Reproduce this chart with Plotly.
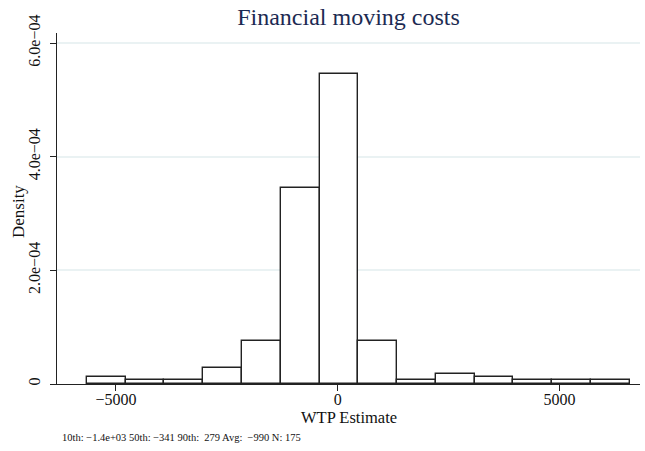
import plotly.graph_objects as go

# Histogram of WTP estimates (density scale), 14 equal-width bins
bin_edges = [-5660, -4785, -3910, -3035, -2160, -1285, -410, 465,
             1340, 2215, 3090, 3965, 4840, 5715, 6590]
density = [1.3e-5, 6.5e-6, 6.5e-6, 2.9e-5, 7.6e-5, 3.45e-4, 5.45e-4,
           7.6e-5, 6.5e-6, 1.8e-5, 1.3e-5, 6.5e-6, 6.5e-6, 6.5e-6]

x_tickvals = [-5000, 0, 5000]
x_ticktext = ["\u22125000", "0", "5000"]
y_tickvals = [0, 2e-4, 4e-4, 6e-4]
y_ticktext = ["0", "2.0e\u221204", "4.0e\u221204", "6.0e\u221204"]

footnote = ("10th: \u22121.4e+03 50th: \u2212341 90th:\u00a0\u00a0279 "
            "Avg:\u00a0\u00a0\u2212990 N: 175")

centers = [(a + b) / 2 for a, b in zip(bin_edges[:-1], bin_edges[1:])]
widths = [b - a for a, b in zip(bin_edges[:-1], bin_edges[1:])]

FONT = "Liberation Serif"
INK = "#111111"
PLOT_H = 451 - 33 - 67

fig = go.Figure(
    go.Bar(
        x=centers,
        y=density,
        width=widths,
        marker=dict(color="white", line=dict(color="#222222", width=1.4)),
        showlegend=False,
        hoverinfo="x+y",
    )
)

fig.update_layout(
    width=645,
    height=451,
    margin=dict(l=57, r=5, t=33, b=67),
    paper_bgcolor="white",
    plot_bgcolor="white",
    font=dict(family=FONT, color=INK),
    title=dict(
        text="Financial moving costs",
        font=dict(family=FONT, size=24, color="#1c2a52"),
        x=0.5,
        xref="paper",
        xanchor="center",
        y=1 - 17 / 451,
        yref="container",
        yanchor="middle",
    ),
    bargap=0,
    xaxis=dict(
        range=[-6330, 6818],
        showline=True,
        linecolor="#222222",
        linewidth=1.2,
        ticks="outside",
        ticklen=6,
        tickcolor="#222222",
        tickvals=x_tickvals,
        ticktext=x_ticktext,
        tickfont=dict(size=16),
        ticklabelstandoff=-5,
        showgrid=False,
        zeroline=False,
    ),
    yaxis=dict(
        range=[0, 6.176e-4],
        showline=True,
        linecolor="#222222",
        linewidth=1.2,
        ticks="outside",
        ticklen=6,
        tickcolor="#222222",
        tickvals=y_tickvals,
        ticktext=y_ticktext,
        tickangle=-90,
        tickfont=dict(size=16),
        ticklabelstandoff=4,
        showgrid=True,
        gridcolor="#eaf2f3",
        gridwidth=1.5,
        zeroline=False,
    ),
    annotations=[
        # x-axis title
        dict(
            text="WTP Estimate",
            xref="paper", yref="paper",
            x=0.5, y=(384.3 - 418) / PLOT_H,
            xanchor="center", yanchor="middle",
            showarrow=False,
            font=dict(family=FONT, size=16.5, color=INK),
        ),
        # y-axis title
        dict(
            text="Density",
            xref="paper", yref="paper",
            x=(18 - 57) / 583, y=0.49,
            xanchor="center", yanchor="middle",
            textangle=-90,
            showarrow=False,
            font=dict(family=FONT, size=17, color=INK),
        ),
        # summary statistics note
        dict(
            text=footnote,
            xref="paper", yref="paper",
            x=0, xshift=3,
            y=(384.3 - 438) / PLOT_H,
            xanchor="left", yanchor="middle",
            showarrow=False,
            font=dict(family=FONT, size=10.5, color=INK),
        ),
    ],
)

fig.write_html("out.html")
